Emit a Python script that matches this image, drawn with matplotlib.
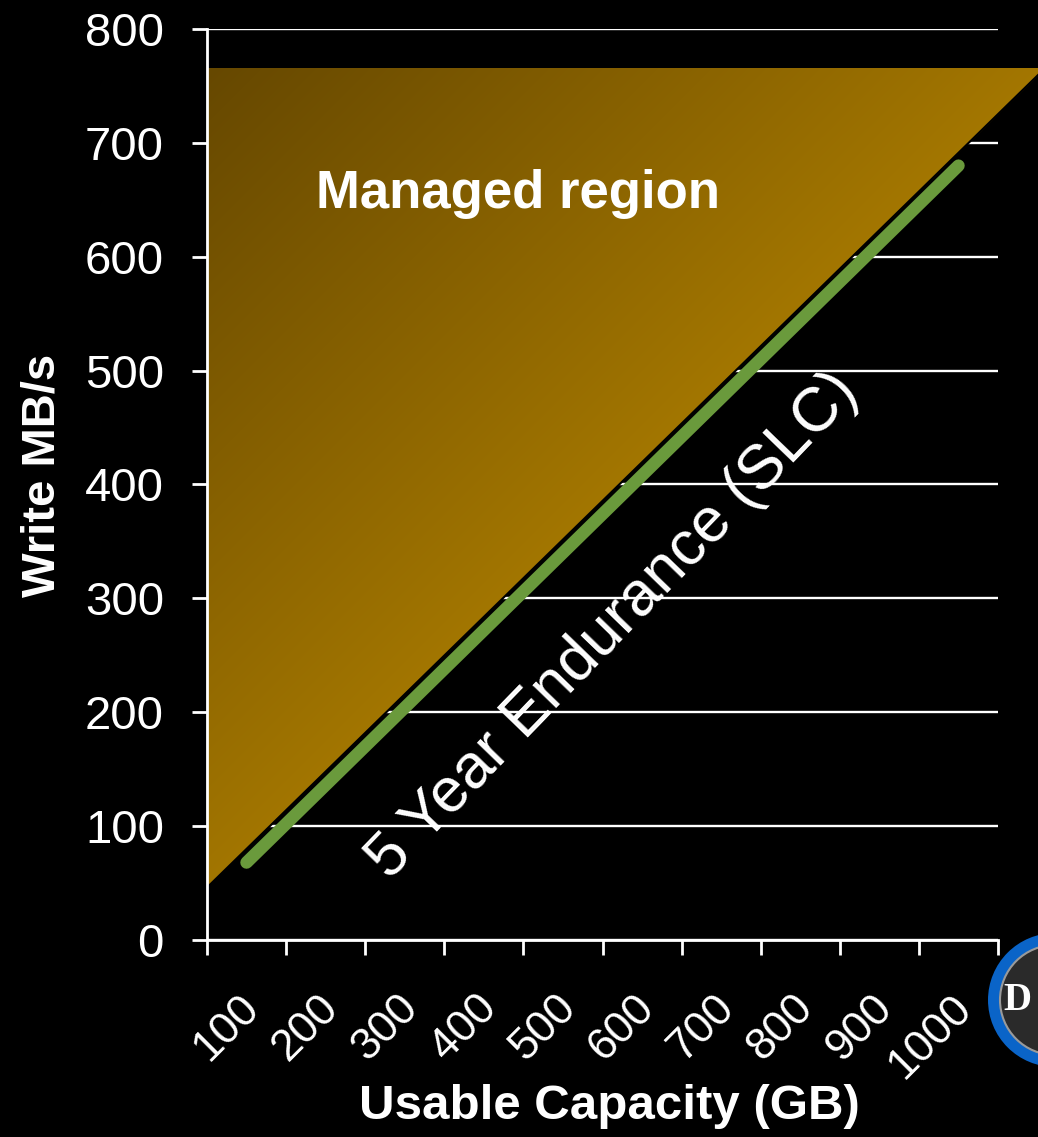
import numpy as np
import matplotlib
matplotlib.use("Agg")
import matplotlib.pyplot as plt
import matplotlib.transforms as mtransforms
from matplotlib.patches import Polygon, Circle

plt.rcParams['font.family'] = ['Liberation Sans', 'DejaVu Sans']

# data
capacity = ['100', '200', '300', '400', '500', '600', '700', '800', '900', '1000']
endurance_slc = [68, 136, 204, 272, 340, 408, 476, 544, 612, 680]
y_ticks = [0, 100, 200, 300, 400, 500, 600, 700, 800]
# managed region corners (category position, MB/s)
region_x = [0.5, 0.5, 11.1]
region_y = [46, 766, 766]

fig = plt.figure(figsize=(10.38, 11.37), dpi=100, facecolor='black')
ax = fig.add_axes([0.1994, 0.1733, 0.9615 - 0.1994, 0.9745 - 0.1733])
ax.set_facecolor('black')

pos = np.arange(1, len(capacity) + 1)
ax.set_xlim(0.5, len(capacity) + 0.5)
ax.set_ylim(0, 800)

# grid lines
ax.set_yticks(y_ticks)
ax.yaxis.grid(True, color='white', lw=1.7, zorder=0)
ax.set_axisbelow(True)

# managed region triangle with diagonal gradient
gx = np.linspace(region_x[0], region_x[2], 600)
gy = np.linspace(region_y[0], region_y[1], 600)
GX, GY = np.meshgrid(gx, gy)
t = ((GX - 0.5) * 79.1 + (766 - GY) * 1.139) / 900.0
t = np.clip(t, 0, 1)
dark = np.array([0x66, 0x48, 0x00]) / 255.0
gold = np.array([0xa8, 0x7a, 0x00]) / 255.0
img = dark[None, None, :] * (1 - t[..., None]) + gold[None, None, :] * t[..., None]
im = ax.imshow(img, extent=[gx[0], gx[-1], gy[0], gy[-1]], origin='lower',
               aspect='auto', zorder=2, interpolation='bilinear')
tri = Polygon(list(zip(region_x, region_y)), closed=True, transform=ax.transData)
im.set_clip_box(fig.bbox)
im.set_clip_path(tri)
ax.plot([region_x[0], region_x[2]], [region_y[0], region_y[2]], color='black',
        lw=1.5, zorder=3, clip_on=False)

# endurance line
ax.plot(pos, endurance_slc, color='#6a9a3c', lw=9, solid_capstyle='round', zorder=4)

ax.text(4.43, 655, 'Managed region', color='white', fontsize=38, fontweight='bold',
        ha='center', va='center', zorder=5)
ax.text(5.64, 276, '5 Year Endurance (SLC)', color='white', fontsize=45,
        rotation=46, ha='center', va='center', rotation_mode='anchor', zorder=5)

# axes styling
for s in ['top', 'right']:
    ax.spines[s].set_visible(False)
for s in ['left', 'bottom']:
    ax.spines[s].set_color('white')
    ax.spines[s].set_linewidth(2)
    ax.spines[s].set_zorder(6)

ax.tick_params(axis='y', colors='white', labelsize=34, length=11, width=2, pad=20)
ax.set_xticks(np.arange(0.5, len(capacity) + 1, 1.0))
ax.set_xticklabels([])
ax.set_xticks(pos, minor=True)
ax.set_xticklabels(capacity, minor=True)
ax.tick_params(axis='x', which='major', colors='white', length=11, width=2)
ax.tick_params(axis='x', which='minor', colors='white', length=0, pad=34, labelsize=32)
shift = mtransforms.ScaledTranslation(-8 / 100, 0, fig.dpi_scale_trans)
for lbl in ax.get_xticklabels(minor=True):
    lbl.set_rotation(45)
    lbl.set_ha('right')
    lbl.set_va('top')
    lbl.set_rotation_mode('anchor')
    lbl.set_transform(lbl.get_transform() + shift)

ax.set_ylabel('Write MB/s', color='white', fontsize=34, fontweight='bold')
ax.yaxis.set_label_coords(-0.18, 0.51)
ax.set_xlabel('Usable Capacity (GB)', color='white', fontsize=35.5, fontweight='bold')
ax.xaxis.set_label_coords(0.509, -0.158)

# logo badge at bottom right corner
tr = fig.dpi_scale_trans
fig.patches.append(Circle((10.55, 1.37), 0.67, transform=tr, facecolor='#0a64c8',
                          edgecolor='none', zorder=1))
fig.patches.append(Circle((10.55, 1.37), 0.55, transform=tr, facecolor='#2a2a2a',
                          edgecolor='#9a9a9a', lw=1.5, zorder=2))
fig.text(10.03, 1.37, 'D', transform=tr, color='white', fontsize=28,
         fontweight='bold', family='Liberation Serif', va='center', ha='left', zorder=3)

fig.savefig('out.png', dpi=100, facecolor='black')
